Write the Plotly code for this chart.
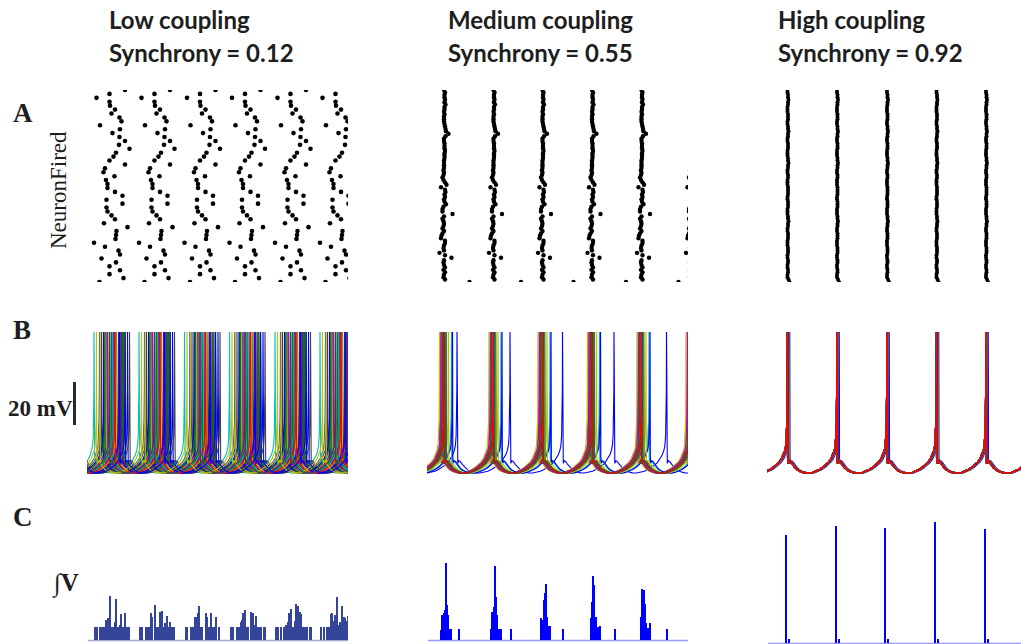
import plotly.graph_objects as go

W, H = 1021, 644

# ---------------- spike data ----------------
# Spike phase (ms) of each neuron inside one network cycle, neuron 1 first.
low_phase_ms = [25, 73, 45, 66, 45, 58, 29, 66, 63, 36, 14, 57, 58, 59, 81, 34, 56, 49, 41, 39,
                71, 39, 71, 56, 41, 41, 38, 55, 33, 36, 76, 45, 53, 58, 85, 64, 76, 65, 51, 66,
                26, 69, 65, 49, 56, 46, 45, 19, 45, 76]
low_cycle_ms = [-90, 0, 90, 181, 271, 362, 452, 542]

# neurons 2..80 of the medium-coupling network
medium_phase_ms = [36, 33, 34, 36, 33, 36, 34, 33, 34,
                   49, 36, 25, 34, 33, 34, 36, 36, 28, 29,
                   31, 34, 31, 33, 34, 33, 31, 34, 51, 31,
                   31, 33, 38, 35, 34, 36, 35, 37, 36, 28,
                   39, 36, 33, 31, 33, 34, 33, 34, 34, 34,
                   34, 35, 35, 35, 36, 35, 35, 35, 34, 34,
                   37, 43, 38, 37, 36, 35, 34, 34, 34, 35,
                   34, 35, 35, 37, 35, 36, 35, 35, 36, 34]
medium_cycle_ms = [-99, 0, 99, 197, 296, 395, 493, 592]
# neuron 1 drifts out of the bursts
medium_late_raster_ms = [85, 188, 293, 398, 503]
medium_late_trace_ms = [-45, 60, 166, 271, 374, 479, 584]

high_phase_ms = [45, 43, 41, 41, 42, 42, 41, 41, 42, 42, 41, 41, 42, 42, 42, 41, 41, 41, 42, 42,
                 42, 41, 41, 42, 42, 43, 42, 42, 41, 41, 41, 42, 42, 42, 41, 41, 42, 42, 42, 42,
                 41, 41, 41, 42, 42, 41, 41, 42, 42, 43, 42, 42, 41, 41, 41, 42, 42, 42, 41, 41,
                 42, 42, 43, 42, 42, 41, 41, 42, 42, 42, 41, 41, 41, 42, 42, 43, 42, 42, 41, 41]
high_cycle_ms = [-99, 0, 99, 199, 298, 397, 497]

# membrane potential over one inter-spike interval (fraction of interval, mV)
template_phase = [0.000, 0.006, 0.015, 0.035, 0.060, 0.100, 0.150, 0.200, 0.270, 0.350, 0.430,
                  0.510, 0.580, 0.650, 0.720, 0.780, 0.830, 0.880, 0.920, 0.950, 0.970, 0.983,
                  0.992, 0.997, 1.000]
template_mv = [0.0, -62.0, -64.5, -63.3, -63.6, -65.0, -66.5, -67.6, -68.5, -69.0, -69.1,
               -68.8, -68.2, -67.4, -66.3, -65.2, -64.0, -62.3, -60.4, -58.3, -55.8, -51.5,
               -44.0, -30.0, 0.0]

# integrated population voltage (a.u.)
low_int_t = [16, 21, 26, 29, 31, 34, 36, 39, 43, 46, 49, 53, 56, 59, 63, 66, 68, 71, 75, 77, 81, 84,
             107, 111, 119, 123, 126, 129, 131, 136, 139, 143, 147, 151, 154, 157, 161, 164, 167, 171, 175,
             198, 201, 209, 213, 216, 219, 223, 225, 227, 231, 238, 241, 245, 249, 253, 256, 259, 265,
             289, 293, 301, 304, 308, 311, 313, 316, 319, 323, 329, 333, 336, 339, 343, 346, 349, 354, 357,
             379, 383, 389, 394, 399, 403, 405, 408, 413, 416, 419, 423, 426, 429, 433, 437, 441, 446, 449,
             469, 474, 481, 484, 488, 491, 495, 497, 500, 503, 506, 511, 514, 517, 519, 523]
low_int_v = [13, 13, 13, 13, 13, 13, 13, 20, 22, 44, 13, 13, 18, 41, 13, 15, 26, 13, 13, 27, 13, 13,
             13, 13, 13, 13, 13, 27, 23, 35, 13, 13, 28, 29, 13, 17, 24, 13, 18, 13, 13,
             13, 13, 13, 13, 23, 23, 27, 34, 13, 13, 27, 23, 13, 27, 13, 13, 23, 13,
             13, 13, 13, 13, 18, 20, 27, 30, 13, 13, 28, 27, 15, 24, 13, 13, 13, 13, 13,
             13, 13, 13, 13, 15, 18, 27, 31, 13, 19, 36, 34, 28, 26, 13, 13, 13, 13, 13,
             13, 13, 13, 13, 26, 27, 19, 25, 43, 15, 18, 34, 23, 22, 19, 24]

medium_int_t = [29, 31, 34, 36, 38, 39, 41, 43, 45, 47, 49, 64,
                129, 131, 134, 136, 138, 140, 142, 145, 148, 168,
                229, 231, 234, 236, 238, 240, 242, 245, 247, 273,
                328, 331, 333, 335, 337, 339, 343, 346, 376,
                428, 431, 434, 437, 439, 443, 446, 481]
medium_int_v = [10, 25, 27, 30, 77, 61, 35, 25, 11, 11, 11, 11,
                11, 28, 33, 74, 43, 25, 11, 11, 11, 11,
                22, 20, 40, 47, 56, 23, 11, 14, 14, 11,
                22, 38, 64, 55, 23, 23, 13, 14, 11,
                23, 51, 50, 36, 17, 12, 17, 11]

high_int_t = [39, 44, 139, 144, 237, 243, 337, 343, 437, 442]
high_int_v = [108, 4, 117, 4, 115, 4, 121, 4, 114, 4]

column_titles = ["Low coupling", "Medium coupling", "High coupling"]
synchrony = ["0.12", "0.55", "0.92"]

# MATLAB default line colour order
line_colors = ["#0000ff", "#008000", "#ff0000", "#00bfbf", "#bf00bf", "#bfbf00", "#404040"]

# ---------------- layout geometry (pixels) ----------------
col_x = [(87, 348), (427, 688), (767, 1021)]
col_range = [522, 522, 508]
row_a_y = (90, 282)
row_b_y = (332, 476)
row_c_y = [(515, 640), (515, 640), (518, 643)]


def px_x(x):
    return x / W


def px_y(y):
    return 1 - y / H


def spike_trace(spikes):
    xs, ys = [], []
    for s0, s1 in zip(spikes[:-1], spikes[1:]):
        for p, v in zip(template_phase[:-1], template_mv[:-1]):
            xs.append(s0 + p * (s1 - s0))
            ys.append(v)
    xs.append(spikes[-1])
    ys.append(template_mv[-1])
    return xs, ys


fig = go.Figure()
layout_axes = {}


def add_axes(idx, xdom, ydom, xrange, yrange):
    xn = "xaxis" if idx == 1 else f"xaxis{idx}"
    yn = "yaxis" if idx == 1 else f"yaxis{idx}"
    layout_axes[xn] = dict(domain=[px_x(xdom[0]), px_x(xdom[1])], range=xrange, visible=False,
                           fixedrange=True, anchor="y" if idx == 1 else f"y{idx}")
    layout_axes[yn] = dict(domain=[px_y(ydom[1]), px_y(ydom[0])], range=yrange, visible=False,
                           fixedrange=True, anchor="x" if idx == 1 else f"x{idx}")
    return ("x" if idx == 1 else f"x{idx}"), ("y" if idx == 1 else f"y{idx}")


# ---------------- row A: rasters ----------------
raster_sets = []
# low
xs, ys = [], []
for n, ph in enumerate(low_phase_ms, start=1):
    for c in low_cycle_ms:
        xs.append(c + ph)
        ys.append(n)
raster_sets.append((xs, ys, len(low_phase_ms)))
# medium
xs, ys = [], []
for t in medium_late_raster_ms:
    xs.append(t)
    ys.append(1)
for n, ph in enumerate(medium_phase_ms, start=2):
    for c in medium_cycle_ms:
        xs.append(c + ph)
        ys.append(n)
raster_sets.append((xs, ys, len(medium_phase_ms) + 1))
# high
xs, ys = [], []
for n, ph in enumerate(high_phase_ms, start=1):
    for c in high_cycle_ms:
        xs.append(c + ph)
        ys.append(n)
raster_sets.append((xs, ys, len(high_phase_ms)))

marker_sizes = [4.6, 4.4, 4.0]
for k, (rx, ry, n_neurons) in enumerate(raster_sets):
    xa, ya = add_axes(1 + k, col_x[k], row_a_y, [0, col_range[k]], [1, n_neurons])
    fig.add_trace(go.Scatter(x=rx, y=ry, mode="markers", xaxis=xa, yaxis=ya,
                             marker=dict(size=marker_sizes[k], color="black", line=dict(width=0)),
                             cliponaxis=True, showlegend=False, hoverinfo="skip"))

# ---------------- row B: membrane potentials ----------------
b_range = [-70.5, -2]
xa, ya = add_axes(4, col_x[0], row_b_y, [0, col_range[0]], b_range)
for n, ph in enumerate(low_phase_ms, start=1):
    tx, ty = spike_trace([c + ph for c in low_cycle_ms])
    fig.add_trace(go.Scatter(x=tx, y=ty, mode="lines", xaxis=xa, yaxis=ya,
                             line=dict(color=line_colors[(n - 1) % 7], width=1.1),
                             showlegend=False, hoverinfo="skip"))

xa, ya = add_axes(5, col_x[1], row_b_y, [0, col_range[1]], b_range)
tx, ty = spike_trace(medium_late_trace_ms)
fig.add_trace(go.Scatter(x=tx, y=ty, mode="lines", xaxis=xa, yaxis=ya,
                         line=dict(color=line_colors[0], width=1.1),
                         showlegend=False, hoverinfo="skip"))
for n, ph in enumerate(medium_phase_ms, start=2):
    tx, ty = spike_trace([c + ph for c in medium_cycle_ms])
    fig.add_trace(go.Scatter(x=tx, y=ty, mode="lines", xaxis=xa, yaxis=ya,
                             line=dict(color=line_colors[(n - 1) % 7], width=1.2),
                             showlegend=False, hoverinfo="skip"))

xa, ya = add_axes(6, col_x[2], row_b_y, [0, col_range[2]], b_range)
for n, ph in enumerate(high_phase_ms, start=1):
    tx, ty = spike_trace([c + ph for c in high_cycle_ms])
    fig.add_trace(go.Scatter(x=tx, y=ty, mode="lines", xaxis=xa, yaxis=ya,
                             line=dict(color=line_colors[(n - 1) % 7], width=1.6),
                             showlegend=False, hoverinfo="skip"))

# ---------------- row C: integrated voltage ----------------
c_sets = [(low_int_t, low_int_v, "#34459a", 2.4, "#a3abd3"),
          (medium_int_t, medium_int_v, "#0000ff", 2.2, "#9a9aff"),
          (high_int_t, high_int_v, "#0000ff", 3.0, "#9a9aff")]
shapes = []
for k, (ct, cv, col, bw, base_col) in enumerate(c_sets):
    xa, ya = add_axes(7 + k, col_x[k], row_c_y[k], [0, col_range[k]], [0, 125])
    fig.add_trace(go.Bar(x=ct, y=cv, width=bw, xaxis=xa, yaxis=ya,
                         marker=dict(color=col, line=dict(width=0)),
                         showlegend=False, hoverinfo="skip"))
    yb = row_c_y[k][1] + 0.5
    shapes.append(dict(type="line", xref="paper", yref="paper",
                       x0=px_x(col_x[k][0] + 1), x1=px_x(col_x[k][1]), y0=px_y(yb), y1=px_y(yb),
                       line=dict(color=base_col, width=1.5), layer="below"))

# 20 mV scale bar
shapes.append(dict(type="line", xref="paper", yref="paper",
                   x0=px_x(74.5), x1=px_x(74.5), y0=px_y(382), y1=px_y(425),
                   line=dict(color="#2a2a2a", width=3)))

# ---------------- text ----------------
annotations = []
title_x = [107, 446, 776]
for k in range(3):
    annotations.append(dict(text=f"<b>{column_titles[k]}</b>", x=px_x(title_x[k]), y=px_y(20),
                            xref="paper", yref="paper", xanchor="left", yanchor="middle",
                            showarrow=False, font=dict(family="Lato", size=24, color="#1e1e1e")))
    annotations.append(dict(text=f"<b>Synchrony = {synchrony[k]}</b>", x=px_x(title_x[k]), y=px_y(52),
                            xref="paper", yref="paper", xanchor="left", yanchor="middle",
                            showarrow=False, font=dict(family="Lato", size=24, color="#1e1e1e")))

serif = "Liberation Serif"
for letter, yc in (("A", 113), ("B", 330), ("C", 517)):
    annotations.append(dict(text=f"<b>{letter}</b>", x=px_x(11), y=px_y(yc), xref="paper", yref="paper",
                            xanchor="left", yanchor="middle", showarrow=False,
                            font=dict(family=serif, size=27, color="#1e1e1e")))

annotations.append(dict(text="NeuronFired", x=px_x(59), y=px_y(190), xref="paper", yref="paper",
                        xanchor="center", yanchor="middle", textangle=-90, showarrow=False,
                        font=dict(family=serif, size=23, color="#1e1e1e")))
annotations.append(dict(text="<b>20 mV</b>", x=px_x(6), y=px_y(409), xref="paper", yref="paper",
                        xanchor="left", yanchor="middle", showarrow=False,
                        font=dict(family=serif, size=23, color="#1e1e1e")))
annotations.append(dict(text="∫<b>V</b>", x=px_x(50), y=px_y(583), xref="paper", yref="paper",
                        xanchor="left", yanchor="middle", showarrow=False,
                        font=dict(family=serif, size=25, color="#1e1e1e")))

fig.update_layout(width=W, height=H, margin=dict(l=0, r=0, t=0, b=0),
                  paper_bgcolor="white", plot_bgcolor="rgba(0,0,0,0)",
                  shapes=shapes, annotations=annotations, bargap=0, **layout_axes)

fig.write_html("out.html", config={"displayModeBar": False})
